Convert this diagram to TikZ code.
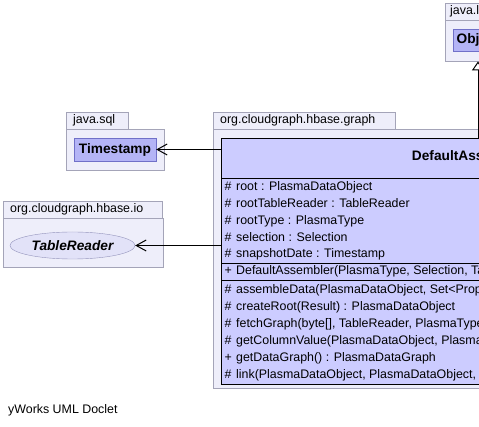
\documentclass[tikz,border=0pt]{standalone}
\usepackage{fontspec}
\setmainfont{Liberation Sans}
\usetikzlibrary{arrows.meta,shapes.geometric}
\definecolor{pkgfill}{HTML}{EEEEFA}
\definecolor{pkgline}{HTML}{A4A4B8}
\definecolor{clsfill}{HTML}{CCCCFF}
\definecolor{reffill}{HTML}{B4B4F6}
\definecolor{refline}{HTML}{7070C8}
\definecolor{ifcfill}{HTML}{E2E2F8}
\definecolor{ifcline}{HTML}{9494BC}
\begin{document}
\begin{tikzpicture}[x=1pt,y=-1pt,
    font=\fontsize{12.4}{14}\selectfont,
    pkg/.style={draw=pkgline,fill=pkgfill,anchor=north west,inner sep=0pt},
    tab/.style={pkg,inner xsep=7pt,text width=#1,align=left,minimum height=17pt,text height=9pt,text depth=2.5pt},
    ref/.style={draw=refline,fill=reffill,inner sep=0pt,font=\fontsize{13.7}{16}\selectfont\bfseries},
    mem/.style={anchor=west,inner sep=0pt,text height=9pt,text depth=2.5pt},
    dep/.style={-{Straight Barb[length=10pt,width=11pt]},line width=1pt},
    gen/.style={-{Triangle[open,length=9pt,width=12pt]},line width=1pt}]
  \fill[white] (0,0) rectangle (479,427);
  \useasboundingbox (0,0) rectangle (479,427);
  \clip (0,0) rectangle (479,427);

  \node[pkg,minimum width=90pt,minimum height=41pt] (langbody) at (445,20) {};
  \node[tab=54pt,inner xsep=5pt] (langtab) at (445,3) {java.lang};
  \node[ref,minimum width=50pt,minimum height=22pt] (obj) at (478,40) {Object};

  \node[pkg,minimum width=98pt,minimum height=41pt] (sqlbody) at (66,129) {};
  \node[tab=48pt] (sqltab) at (66,112) {java.sql};
  \node[ref,minimum width=82pt,minimum height=23pt] (ts) at (115,149.5) {Timestamp};

  \node[pkg,minimum width=160pt,minimum height=49pt] (iobody) at (3,218) {};
  \node[tab=145pt] (iotab) at (3,201) {org.cloudgraph.hbase.io};
  \node[ellipse,draw=ifcline,fill=ifcfill,minimum width=125pt,minimum height=27pt,inner sep=0pt,
    font=\fontsize{13.7}{16}\selectfont\bfseries\itshape] (tr) at (72.5,245.5) {TableReader};

  \node[pkg,minimum width=520pt,minimum height=259pt] (graphbody) at (213,129) {};
  \node[tab=168pt] (graphtab) at (213,112) {org.cloudgraph.hbase.graph};
  \node[draw,fill=clsfill,anchor=north west,minimum width=498pt,minimum height=246pt,inner sep=0pt] (da) at (221,138) {};
  \node[font=\fontsize{13.7}{16}\selectfont\bfseries,inner sep=0pt] (daname) at ([yshift=-18pt]da.north) {DefaultAssembler};
  \foreach \y in {178,263,280}
    \draw (da.west |- 0,\y) -- (da.east |- 0,\y);
  \foreach \y/\v/\t [count=\i] in {
      187/\#/{root : PlasmaDataObject},
      204/\#/{rootTableReader : TableReader},
      221/\#/{rootType : PlasmaType},
      238/\#/{selection : Selection},
      254/\#/{snapshotDate : Timestamp},
      271/+/{DefaultAssembler(PlasmaType, Selection, TableReader, Timestamp)},
      290/\#/{assembleData(PlasmaDataObject, Set<Property>)},
      307/\#/{createRoot(Result) : PlasmaDataObject},
      324/\#/{fetchGraph(byte[], TableReader, PlasmaType)},
      341/\#/{getColumnValue(PlasmaDataObject, PlasmaProperty)},
      358/+/{getDataGraph() : PlasmaDataGraph},
      375/\#/{link(PlasmaDataObject, PlasmaDataObject, Property)}} {
    \node[mem] (v\i) at (224.5,\y) {\v};
    \node[mem] (m\i) at (236,\y) {\t};
  }

  \draw[dep] (da.west |- ts.east) -- (ts.east);
  \draw[dep] (da.west |- tr.east) -- (tr.east);
  \draw[gen] (da.north -| obj.south) -- (langbody.south -| obj.south);

  \node[anchor=west,inner sep=0pt] (doclet) at (8,410) {yWorks UML Doclet};
\end{tikzpicture}
\end{document}
